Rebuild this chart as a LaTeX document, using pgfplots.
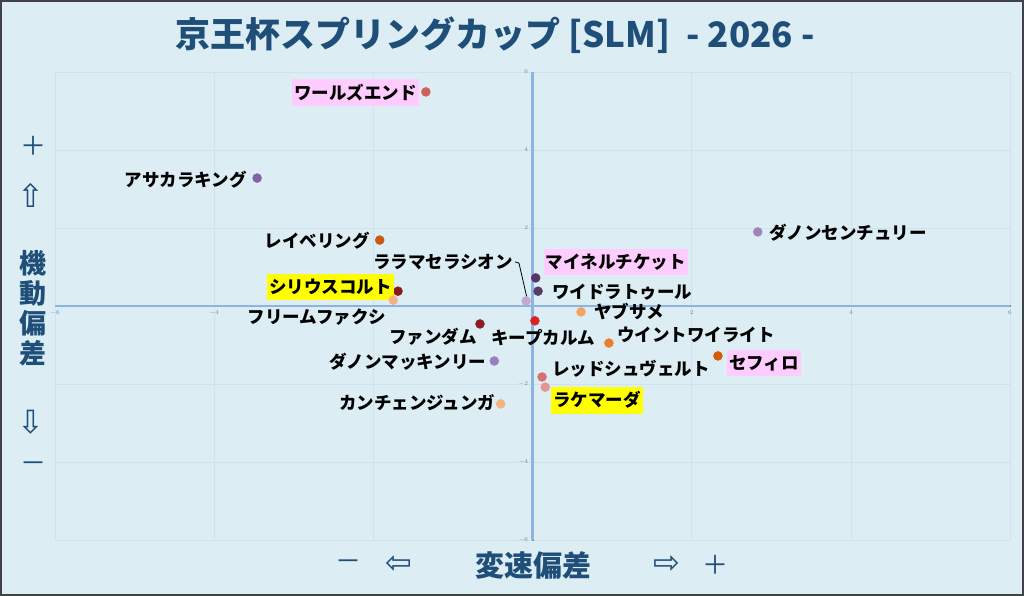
\documentclass[border=0pt]{standalone}
\usepackage{fontspec}
\usepackage{pgfplots}
\pgfplotsset{compat=1.18}
\newfontfamily\jp{Noto Sans CJK JP}
\newfontfamily\dv{DejaVu Sans}
\definecolor{bg}{HTML}{DCEDF4}
\definecolor{frame}{HTML}{3F4347}
\definecolor{navy}{HTML}{1F4E79}
\definecolor{zeroline}{HTML}{8DB3E2}
\definecolor{gridc}{HTML}{CFE2EE}
\definecolor{tickc}{HTML}{6A8CB8}
\definecolor{pinkbg}{HTML}{FFCCFF}
\definecolor{yellowbg}{HTML}{FFFF00}
% point colours
\definecolor{cWorlds}{HTML}{D0605A}
\definecolor{cAsaka}{HTML}{8064A2}
\definecolor{cDanonC}{HTML}{A084B8}
\definecolor{cRay}{HTML}{C55A11}
\definecolor{cLala}{HTML}{C3A8CF}
\definecolor{cMeine}{HTML}{54366A}
\definecolor{cWide}{HTML}{553A6A}
\definecolor{cSirius}{HTML}{8B1A1A}
\definecolor{cFree}{HTML}{F4B183}
\definecolor{cYabu}{HTML}{F4A460}
\definecolor{cFan}{HTML}{8B1F1F}
\definecolor{cKeep}{HTML}{D42626}
\definecolor{cWint}{HTML}{ED7D31}
\definecolor{cSeph}{HTML}{D55A00}
\definecolor{cDanonM}{HTML}{9A7FC0}
\definecolor{cRed}{HTML}{D87070}
\definecolor{cLake}{HTML}{E39494}
\definecolor{cKan}{HTML}{F4B183}

% colour, x, y, label, anchor, xshift, yshift, extra node style
\newcommand{\horse}[8]{%
  \addplot[only marks, mark=*, mark size=4.5pt, color=#1,
    nodes near coords={#4},
    every node near coord/.append style={anchor=#5, xshift=#6pt, yshift=#7pt, text=black, #8}]
    coordinates {(#2,#3)};
}

\begin{document}
\begin{tikzpicture}
\fill[bg] (0,0) rectangle (1024pt,596pt);
\draw[frame, line width=2pt] (1pt,1pt) rectangle (1023pt,595pt);

\begin{axis}[
    at={(55pt,56pt)}, anchor=south west,
    scale only axis, width=955pt, height=468pt,
    xmin=-6, xmax=6, ymin=-6, ymax=6,
    axis lines=middle,
    axis line style={zeroline, line width=2.5pt, -},
    xtick={-6,-4,-2,0,2,4,6}, ytick={-6,-4,-2,0,2,4,6},
    grid=major, grid style={gridc, line width=0.6pt},
    major tick length=2pt, tick style={tickc, line width=0.4pt},
    tick label style={font=\fontsize{6.5}{7}\selectfont, text=tickc},
    every node near coord/.append style={font=\jp\bfseries\fontsize{17.5}{20}\selectfont, inner xsep=2pt, inner ysep=5pt},
    clip=false,
]
\horse{cWorlds}{-1.34}{5.49}{ワールズエンド}{east}{-7}{-1}{fill=pinkbg}
\horse{cAsaka}{-3.46}{3.28}{アサカラキング}{east}{-8}{-2}{}
\horse{cDanonC}{2.83}{1.90}{ダノンセンチュリー}{west}{10}{-1}{}
\horse{cRay}{-1.92}{1.69}{レイベリング}{east}{-8}{-1}{}
\horse{cLala}{-0.08}{0.13}{ララマセラシオン}{east}{-11}{39}{}
\horse{cMeine}{0.04}{0.72}{マイネルチケット}{west}{8}{16}{fill=pinkbg}
\horse{cWide}{0.07}{0.38}{ワイドラトゥール}{west}{12}{-1}{}
\horse{cSirius}{-1.69}{0.38}{シリウスコルト}{east}{-4}{4}{fill=yellowbg}
\horse{cFree}{-1.75}{0.15}{フリームファクシ}{east}{-5}{-17}{}
\horse{cYabu}{0.61}{-0.15}{ヤブサメ}{west}{11}{0}{}
\horse{cFan}{-0.66}{-0.46}{ファンダム}{east}{-1}{-13}{}
\horse{cKeep}{0.03}{-0.38}{キープカルム}{center}{8}{-17}{}
\horse{cWint}{0.96}{-0.95}{ウイントワイライト}{west}{6}{8}{}
\horse{cSeph}{2.33}{-1.28}{セフィロ}{west}{9}{-7}{fill=pinkbg}
\horse{cDanonM}{-0.48}{-1.41}{ダノンマッキンリー}{east}{-6}{-1}{}
\horse{cRed}{0.12}{-1.82}{レッドシュヴェルト}{west}{8}{8}{}
\horse{cLake}{0.16}{-2.08}{ラケマーダ}{west}{6}{-13}{fill=yellowbg}
\horse{cKan}{-0.40}{-2.51}{カンチェンジュンガ}{east}{-3}{1}{}
% leader line of ララマセラシオン
\draw[black, line width=0.8pt] (axis cs:-0.22,1.13) -- (axis cs:-0.17,1.10) -- (axis cs:-0.07,0.21);
\end{axis}

% title
\node[text=navy, font=\jp\bfseries\fontsize{35}{38}\selectfont] at (495pt,561pt)
  {京王杯スプリングカップ [SLM]\ \ - 2026 -};

% vertical axis label
\node[text=navy, font=\jp\fontsize{26}{28}\selectfont] at (33pt,450pt) {＋};
\node[text=navy, font=\dv\fontsize{32}{34}\selectfont] at (31pt,401pt) {⇧};
\node[text=navy, font=\jp\bfseries\fontsize{27}{30}\selectfont, align=center, inner sep=0pt] at (33pt,288pt) {機\\動\\偏\\差};
\node[text=navy, font=\dv\fontsize{32}{34}\selectfont] at (31pt,174pt) {⇩};
\node[text=navy, font=\jp\fontsize{26}{28}\selectfont] at (33pt,129pt) {－};

% horizontal axis label
\node[text=navy, font=\jp\fontsize{26}{28}\selectfont] at (348pt,31pt) {－};
\node[text=navy, font=\dv\fontsize{32}{34}\selectfont] at (399pt,31pt) {⇦};
\node[text=navy, font=\jp\bfseries\fontsize{29}{32}\selectfont] at (533pt,31pt) {変速偏差};
\node[text=navy, font=\dv\fontsize{32}{34}\selectfont] at (667pt,31pt) {⇨};
\node[text=navy, font=\jp\fontsize{26}{28}\selectfont] at (715pt,31pt) {＋};

\pgfresetboundingbox
\useasboundingbox (0,0) rectangle (1024pt,596pt);
\end{tikzpicture}
\end{document}
